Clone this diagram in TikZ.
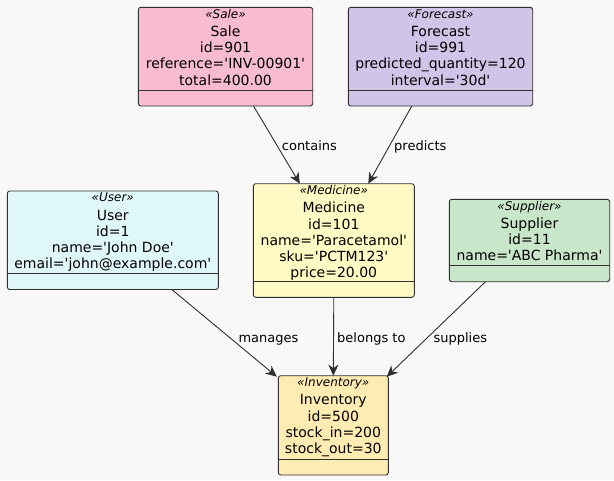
\documentclass[tikz,border=0pt]{standalone}
\usepackage{fontspec}
\setmainfont{DejaVu Sans}
\usetikzlibrary{arrows.meta}
\definecolor{bgc}{HTML}{F8F8F8}
\definecolor{bord}{HTML}{303030}
\definecolor{salec}{HTML}{F8BBD0}
\definecolor{forec}{HTML}{D1C4E9}
\definecolor{userc}{HTML}{E0F7FA}
\definecolor{medc}{HTML}{FFF9C4}
\definecolor{supc}{HTML}{C8E6C9}
\definecolor{invc}{HTML}{FFECB3}
\newcommand\stereo[1]{{\fontsize{12}{14}\selectfont\itshape\rule{0pt}{10.5pt}«#1»}}
\newcommand\q{\textquotesingle}
\begin{document}
\begin{tikzpicture}[x=1pt,y=-1pt,
  umlbox/.style={draw=bord, line width=0.9pt, rounded corners=2.5pt, anchor=north west, inner sep=0pt, outer sep=0pt, minimum width=#1},
  txt/.style={anchor=north, inner sep=0pt, align=center, font=\fontsize{14}{16.3}\selectfont},
  lbl/.style={anchor=base west, inner sep=0pt, font=\fontsize{13}{15}\selectfont},
  conn/.style={draw=bord, line width=0.9pt, -{Stealth[length=11pt,width=10pt,inset=3.5pt]}},
  sepl/.style={draw=bord, line width=0.9pt}]
\fill[bgc] (0,0) rectangle (614,480);
\useasboundingbox (0,0) rectangle (614,480);
% boxes
\node[umlbox=174.4pt, fill=salec, minimum height=98.7pt] (sale) at (138.3,7.3) {};
\node[umlbox=184.4pt, fill=forec, minimum height=98.7pt] (fc) at (348.3,7.3) {};
\node[umlbox=211pt, fill=userc, minimum height=98.5pt] (user) at (7.3,191) {};
\node[umlbox=161pt, fill=medc, minimum height=113.6pt] (med) at (253.3,183.7) {};
\node[umlbox=160.4pt, fill=supc, minimum height=82.4pt] (sup) at (449.3,199.3) {};
\node[umlbox=110pt, fill=invc, minimum height=99.3pt] (inv) at (278.3,375.7) {};
% separators
\foreach \b in {sale,fc,user,med,sup,inv}
  \draw[sepl] ([yshift=16pt]\b.south west) -- ([yshift=16pt]\b.south east);
% texts
\node[txt] (salet) at (sale.north) {\stereo{Sale}\\[2pt]Sale\\id=901\\reference=\q INV-00901\q\\total=400.00};
\node[txt] (fct) at (fc.north) {\stereo{Forecast}\\[2pt]Forecast\\id=991\\predicted\_quantity=120\\interval=\q30d\q};
\node[txt] (usert) at (user.north) {\stereo{User}\\[2pt]User\\id=1\\name=\q John Doe\q\\email=\q john@example.com\q};
\node[txt] (medt) at (med.north) {\stereo{Medicine}\\[2pt]Medicine\\id=101\\name=\q Paracetamol\q\\sku=\q PCTM123\q\\price=20.00};
\node[txt] (supt) at (sup.north) {\stereo{Supplier}\\[2pt]Supplier\\id=11\\name=\q ABC Pharma\q};
\node[txt] (invt) at (inv.north) {\stereo{Inventory}\\[2pt]Inventory\\id=500\\stock\_in=200\\stock\_out=30};
% connectors
\draw[conn] ([xshift=28pt]sale.south) -- ([xshift=-34pt]med.north);
\draw[conn] ([xshift=-28.7pt]fc.south) -- ([xshift=34.5pt]med.north);
\draw[conn] ([xshift=59pt]user.south) -- ([shift={(-1.5pt,-1pt)}]inv.north west);
\draw[conn] (med.south) -- (inv.north);
\draw[conn] ([xshift=-44pt]sup.south) -- ([shift={(-1.5pt,-1pt)}]inv.north east);
% labels
\node[lbl] (l1) at (281.7,150) {contains};
\node[lbl] (l2) at (394,150) {predicts};
\node[lbl] (l3) at (238.3,342) {manages};
\node[lbl] (l4) at (337,342) {belongs to};
\node[lbl] (l5) at (433.3,342) {supplies};
\end{tikzpicture}
\end{document}
